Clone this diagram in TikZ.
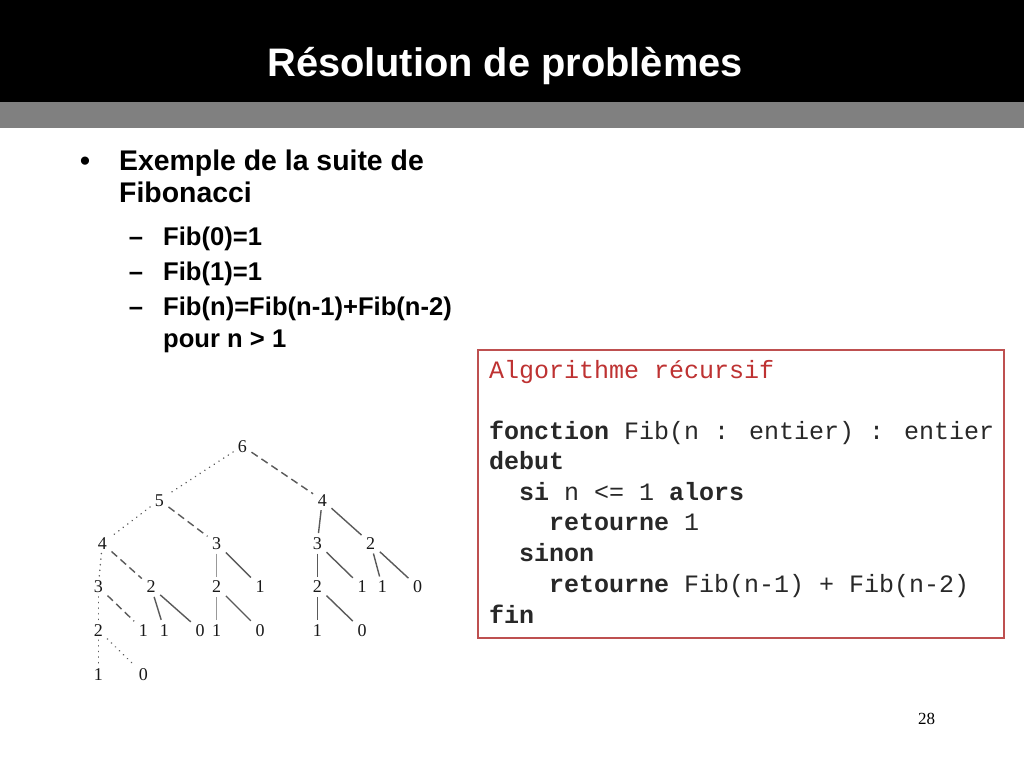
\documentclass[tikz,border=0pt]{standalone}
\usepackage{fontspec}
\setmainfont{Liberation Sans}
\newfontfamily\treefont{Liberation Serif}
\newfontfamily\codefont{Liberation Mono}
\definecolor{boxred}{RGB}{190,80,80}
\definecolor{codered}{RGB}{190,50,50}
\definecolor{edgegray}{RGB}{90,90,90}
\definecolor{codegray}{RGB}{40,40,40}
\begin{document}
\begin{tikzpicture}[x=1pt,y=-1pt,
  titletext/.style={text=white,font=\fontsize{39.8}{46}\selectfont\bfseries,inner sep=0pt,anchor=base},
  bul/.style={font=\fontsize{28.4}{32}\selectfont\bfseries,inner sep=0pt,anchor=base west},
  subbul/.style={font=\fontsize{25.6}{30}\selectfont\bfseries,inner sep=0pt,anchor=base west},
  code/.style={font=\fontsize{25.0}{30}\selectfont\codefont,inner sep=0pt,anchor=base west,text=codegray},
  tn/.style={font=\fontsize{18}{20}\selectfont\treefont,inner xsep=4.5pt,inner ysep=4pt,text height=12pt,text depth=0pt,text=black!90},
  ed/.style={draw=edgegray,line width=1.4pt},
  dotE/.style={ed,line cap=round,line width=1.6pt,dash pattern=on 0.1pt off 5.5pt},
  dashE/.style={ed,dash pattern=on 7.5pt off 4.5pt},
  solE/.style={ed}
]
\useasboundingbox (0,0) rectangle (1024,768);
\fill[white] (0,0) rectangle (1024,768);
% header
\fill[black] (0,0) rectangle (1024,102);
\fill[black!50] (0,102) rectangle (1024,128);
\node[titletext] (title) at (505,76) {Résolution de problèmes};
% bullets
\node[bul,anchor=base] (b0) at (85,170) {•};
\node[bul] (b1) at (119,170) {Exemple de la suite de};
\node[bul] (b2) at (119,202) {Fibonacci};
\node[subbul,anchor=base] (d1) at (136,245) {–};
\node[subbul] (s1) at (163,245) {Fib(0)=1};
\node[subbul,anchor=base] (d2) at (136,280) {–};
\node[subbul] (s2) at (163,280) {Fib(1)=1};
\node[subbul,anchor=base] (d3) at (136,315) {–};
\node[subbul] (s3) at (163,315) {Fib(n)=Fib(n-1)+Fib(n-2)};
\node[subbul] (s4) at (163,347) {pour n > 1};
% code box
\draw[boxred,line width=1.3pt] (478,350) rectangle (1004,638);
\node[code,text=codered] (c0) at (489,378) {Algorithme récursif};
\node[code] (c1) at (489,439) {\textbf{fonction} Fib(n : entier) : entier};
\node[code] (c2) at (489,469) {\textbf{debut}};
\node[code] (c3) at (489,500) {\phantom{xx}\textbf{si} n <= 1 \textbf{alors}};
\node[code] (c4) at (489,530) {\phantom{xxxx}\textbf{retourne} 1};
\node[code] (c5) at (489,561) {\phantom{xx}\textbf{sinon}};
\node[code] (c6) at (489,592) {\phantom{xxxx}\textbf{retourne} Fib(n-1) + Fib(n-2)};
\node[code] (c7) at (489,623) {\textbf{fin}};
% tree
\node[tn] (n6) at (242.3,446) {6};
\node[tn] (n5) at (159.3,500) {5};
\node[tn] (n4r) at (322.3,500) {4};
\node[tn] (n4l) at (102.3,543.3) {4};
\node[tn] (n3m) at (216.7,543.3) {3};
\node[tn] (n3r) at (317.3,543.3) {3};
\node[tn] (n2r) at (370.7,543.3) {2};
\node[tn] (n3l) at (98.3,586.7) {3};
\node[tn] (n2a) at (151,586.7) {2};
\node[tn] (n2m) at (216.7,586.7) {2};
\node[tn] (n1m) at (260,586.7) {1};
\node[tn] (n2s) at (317.3,586.7) {2};
\node[tn] (n1s) at (362,586.7) {1};
\node[tn] (n1t) at (382.3,586.7) {1};
\node[tn] (n0t) at (417.7,586.7) {0};
\node[tn] (n2l) at (98.3,630) {2};
\node[tn] (n1a) at (143.3,630) {1};
\node[tn] (n1b) at (164.3,630) {1};
\node[tn] (n0b) at (200,630) {0};
\node[tn] (n1c) at (216.7,630) {1};
\node[tn] (n0c) at (260,630) {0};
\node[tn] (n1d) at (317.3,630) {1};
\node[tn] (n0d) at (362,630) {0};
\node[tn] (n1e) at (98.3,674) {1};
\node[tn] (n0e) at (143.3,674) {0};
\draw[dotE] (n6) -- (n5);
\draw[dashE] (n6) -- (n4r);
\draw[dotE] (n5) -- (n4l);
\draw[dashE] (n5) -- (n3m);
\draw[solE] (n4r) -- (n3r);
\draw[solE] (n4r) -- (n2r);
\draw[dotE] (n4l) -- (n3l);
\draw[dashE] (n4l) -- (n2a);
\draw[solE,draw=black!40] (n3m) -- (n2m);
\draw[solE] (n3m) -- (n1m);
\draw[solE] (n3r) -- (n2s);
\draw[solE] (n3r) -- (n1s);
\draw[solE] (n2r) -- (n1t);
\draw[solE] (n2r) -- (n0t);
\draw[dotE] (n3l) -- (n2l);
\draw[dashE] (n3l) -- (n1a);
\draw[solE] (n2a) -- (n1b);
\draw[solE] (n2a) -- (n0b);
\draw[solE,draw=black!40] (n2m) -- (n1c);
\draw[solE] (n2m) -- (n0c);
\draw[solE] (n2s) -- (n1d);
\draw[solE] (n2s) -- (n0d);
\draw[dotE] (n2l) -- (n1e);
\draw[dotE] (n2l) -- (n0e);
% page number
\node[font=\fontsize{17}{20}\selectfont\treefont,inner sep=0pt,anchor=base] (pg) at (926.5,724) {28};
\end{tikzpicture}
\end{document}
